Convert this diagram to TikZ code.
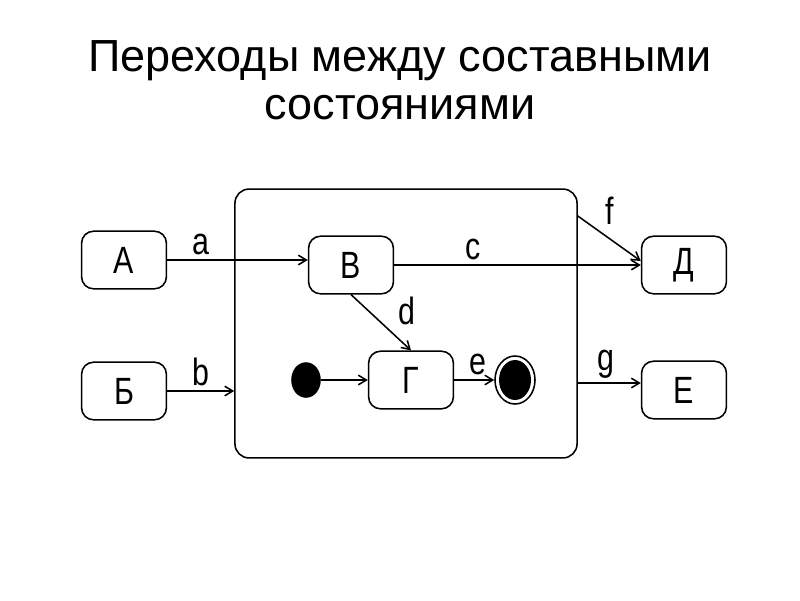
\documentclass[tikz,border=0pt]{standalone}
\usepackage{fontspec}
\setmainfont{Liberation Sans}
\newfontfamily\nodefont[FakeStretch=0.8]{Liberation Sans}
\usetikzlibrary{arrows.meta,positioning,calc,shapes.geometric}

\begin{document}
\begin{tikzpicture}[
    x=0.025cm, y=-0.025cm,
    >={Straight Barb[length=2mm,width=2.4mm]},
    line width=1.1pt,
    font=\nodefont\fontsize{27}{30}\selectfont,
    simple/.style={
        draw,
        rounded corners=8.5pt,
        minimum width=2.12cm,
        minimum height=1.44cm,
        inner sep=0pt
    },
    composite/.style={
        draw,
        rounded corners=10pt,
        minimum width=8.55cm,
        minimum height=6.72cm,
        inner sep=0pt
    },
    trans/.style={->,line width=1.1pt},
    lbl/.style={inner sep=1pt}
]
\useasboundingbox (0,0) rectangle (800,600);

% Title
\node[align=center,font=\fontsize{32}{34}\selectfont] (title) at (400,80)
    {Переходы между составными\\состояниями};

% Composite state
\node[composite] (comp) at (406,323.5) {};

% Simple states
\node[simple] (A) at (124,260) {А};
\node[simple] (Bb) at (124,391) {Б};
\node[simple] (B) at (351,265) {В};
\node[simple] (G) at (411,380) {Г};
\node[simple] (D) at (684,265) {Д};
\node[simple] (E) at (684,390) {Е};

% Pseudo states
\node[draw,fill,ellipse,minimum width=0.7cm,minimum height=0.85cm,inner sep=0pt] (init) at (306,380) {};
\node[draw,ellipse,minimum width=1.0cm,minimum height=1.2cm,inner sep=0pt] (fin) at (515,380) {};
\node[draw,fill,ellipse,minimum width=0.76cm,minimum height=0.96cm,inner sep=0pt] (finin) at (515,380) {};

% Transitions
\draw[trans] (A.east) -- node[lbl,pos=0.24,above=2pt] {a} (A.east -| B.west);
\draw[trans] (Bb.east) -- node[lbl,midway,above=2pt] {b} (Bb.east -| comp.west);
\draw[trans] (B.east) -- node[lbl,pos=0.32,above=2pt] {c} (D.west);
\draw[trans] (B.south) -- node[lbl,pos=0.3,right=0.68cm] {d} (G.north);
\draw[trans] (init) -- (init -| G.west);
\draw[trans] (G.east) -- node[lbl,pos=0.6,above=2pt] {e} (fin);
\coordinate (fstart) at (comp.east |- 0,216);
\coordinate (gstart) at (comp.east |- 0,383);
\draw[trans] (fstart) -- node[lbl,midway,above=0.3cm] {f} ([yshift=0.1cm]D.west);
\draw[trans] (gstart) -- node[lbl,pos=0.45,above=2pt] {g} (gstart -| E.west);

\end{tikzpicture}
\end{document}
